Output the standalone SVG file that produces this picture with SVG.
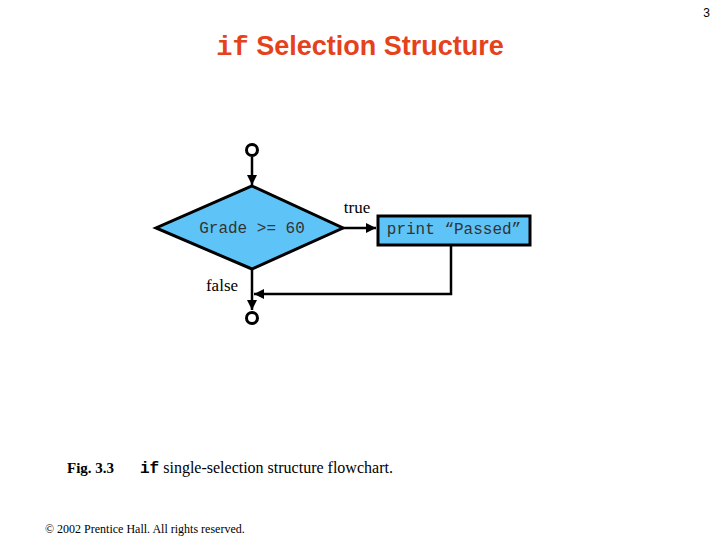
<svg xmlns="http://www.w3.org/2000/svg" width="720" height="540" viewBox="0 0 720 540">
<style>
.shape{fill:#5EC4F7;stroke:#000;stroke-width:3}
.term{fill:#fff;stroke:#000;stroke-width:3}
.line{fill:none;stroke:#000;stroke-width:2.5}
.mono{font-family:"Liberation Mono",monospace;font-size:16px;fill:#333}
.serif{font-family:"Liberation Serif",serif;fill:#000}
</style>
<defs>
<marker id="arr" viewBox="0 0 10 10" refX="10" refY="5" markerWidth="4" markerHeight="4" orient="auto" markerUnits="strokeWidth">
<path d="M0,0 L10,5 L0,10 z" fill="#000"/>
</marker>
</defs>
<rect width="720" height="540" fill="#fff"/>
<text x="710" y="17" font-family="Liberation Sans,sans-serif" font-size="12" text-anchor="end">3</text>
<text x="360" y="55" text-anchor="middle" fill="#E5411B" font-family="Liberation Sans,sans-serif" font-weight="bold" font-size="27"><tspan font-family="Liberation Mono,monospace" font-size="27">if</tspan> Selection Structure</text>
<g id="connectors">
<path class="line" d="M252,157 V185" marker-end="url(#arr)"/>
<path class="line" d="M343,228 H376" marker-end="url(#arr)"/>
<path class="line" d="M451,246 V294 H254" marker-end="url(#arr)"/>
<path class="line" d="M252,270 V310" marker-end="url(#arr)"/>
</g>
<g id="start"><circle class="term" cx="252" cy="150" r="5.5"/></g>
<g id="decision">
<polygon class="shape" points="252,186 343,228 252,269 156,228"/>
<text class="mono" x="252" y="233" text-anchor="middle">Grade &gt;= 60</text>
</g>
<g id="action">
<rect class="shape" x="378" y="216" width="152" height="29"/>
<text class="mono" x="454" y="234" text-anchor="middle">print “Passed”</text>
</g>
<g id="end"><circle class="term" cx="252" cy="318" r="5.5"/></g>
<text class="serif" x="357" y="213" font-size="17" text-anchor="middle">true</text>
<text class="serif" x="222" y="291" font-size="17" text-anchor="middle">false</text>
<text class="serif" x="67" y="473" font-size="15" font-weight="bold">Fig. 3.3</text>
<text class="serif" x="140" y="473" font-size="16"><tspan font-family="Liberation Mono,monospace" font-weight="bold">if</tspan> single-selection structure flowchart.</text>
<text class="serif" x="45" y="533" font-size="12">© 2002 Prentice Hall.  All rights reserved.</text>
</svg>
